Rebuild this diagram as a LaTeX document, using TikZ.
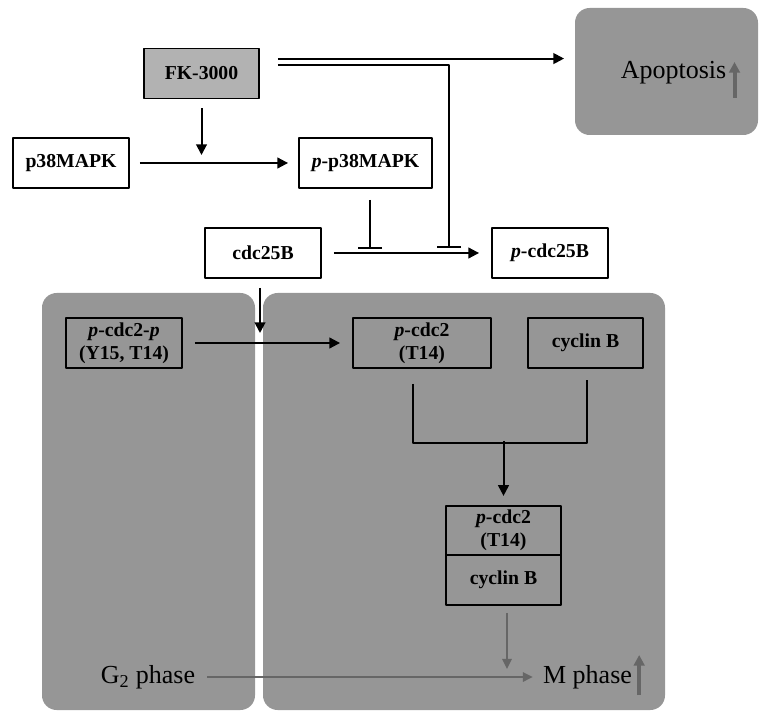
\documentclass[tikz,border=0pt]{standalone}
\usepackage{fontspec}
\setmainfont{Liberation Serif}
\usetikzlibrary{arrows.meta,calc}
\definecolor{panelgray}{gray}{0.59}
\definecolor{fkgray}{gray}{0.70}
\definecolor{arrowgray}{gray}{0.40}
\tikzset{
  box/.style={draw, line width=1.4pt, inner sep=0pt, minimum height=37.5pt, align=center,
    font=\bfseries\fontsize{14.8}{17}\selectfont},
  phase/.style={inner sep=0pt, font=\fontsize{19.5}{22}\selectfont},
  arr/.style={line width=1.5pt, -{Triangle[length=8pt,width=8pt]}},
  inh/.style={line width=1.5pt, -{Bar[width=18pt,line width=1.5pt]}},
  garr/.style={line width=1.5pt, draw=arrowgray, -{Triangle[length=7.5pt,width=7pt]}, color=arrowgray},
  uparr/.style={line width=3pt, draw=arrowgray, -{Triangle[length=8pt,width=8pt]}, color=arrowgray},
  panel/.style={fill=panelgray, rounded corners=11pt},
}
\begin{document}
\begin{tikzpicture}[x=0.75pt, y=-0.75pt, line join=round]
\useasboundingbox (0,0) rectangle (759,712);
% shaded phases
\fill[panel] (575,8) rectangle (758,135);
\fill[panel] (42,293) rectangle (255,710);
\fill[panel] (263,293) rectangle (665,710);

% nodes
\node[box, fill=fkgray, minimum width=86.25pt] (fk) at (201.5,73.5) {FK-3000};
\node[box, minimum width=87pt] (p38) at (71,163) {p38MAPK};
\node[box, minimum width=99.75pt] (pp38) at (365.5,163) {\textit{p}-p38MAPK};
\node[box, minimum width=87pt] (cdc) at (263,253) {cdc25B};
\node[box, minimum width=87pt] (pcdc) at (550,253) {\textit{p}-cdc25B};
\node[box, minimum width=87pt] (pcp) at (124,343) {\textit{p}-cdc2-\textit{p}\\(Y15, T14)};
\node[box, minimum width=103.5pt] (pc2) at (422,343) {\textit{p}-cdc2\\(T14)};
\node[box, minimum width=86.25pt] (cyc) at (585.5,343) {cyclin B};
\node[box, minimum width=86.25pt, minimum height=37pt] (cplxA) at (503.5,530.5) {\textit{p}-cdc2\\(T14)};
\node[box, minimum width=86.25pt] (cplxB) at (503.5,580) {cyclin B};
\node[phase] (aptxt) at (673.5,73) {Apoptosis};
\node[phase] (g2) at (148,677) {G\textsubscript{2} phase};
\node[phase] (mph) at (587.5,677) {M phase};

% connectors
\draw[arr] ($(fk.north east)+(18,11)$) -- ($(pcdc.west |- fk.north east)+(73,11)$);
\draw[inh] ($(fk.north east)+(18,17)$) -| ($(pcdc.west)+(-42,-5)$);
\draw[arr, shorten <=6.75pt, shorten >=6pt] (fk.south) -- (fk.south |- p38.east);
\draw[arr, shorten <=7.5pt, shorten >=7.5pt] (p38.east) -- (pp38.west);
\draw[inh] ($(pp38.south)+(4.5,11)$) -- ($(pp38.south)+(4.5,60)$);
\draw[arr, shorten <=9pt, shorten >=9pt] (cdc.east) -- (pcdc.west);
\draw[arr, shorten <=6.75pt, shorten >=7.5pt] ($(cdc.south)+(-3,0)$) -- ($(cdc.south |- pcp.east)+(-3,0)$);
\draw[arr, shorten <=9pt, shorten >=9pt] (pcp.east) -- (pc2.west);
\draw[line width=1.5pt] ($(pc2.south)+(-9,15)$) |- ($(cyc.south)+(1.5,74)$) -- ($(cyc.south)+(1.5,11)$);
\draw[arr] ($(cplxA.north)+(0,-64)$) -- ($(cplxA.north)+(0,-9)$);
\draw[garr] ($(cplxB.south)+(3.5,7)$) -- ($(cplxB.south)+(3.5,63)$);
\draw[garr, shorten <=9pt, shorten >=7.5pt] (g2.east) -- (mph.west);
\draw[uparr] ($(aptxt.east)+(8,25)$) -- ($(aptxt.east)+(8,-11)$);
\draw[uparr] ($(mph.east)+(7,18)$) -- ($(mph.east)+(7,-22)$);
\end{tikzpicture}
\end{document}
